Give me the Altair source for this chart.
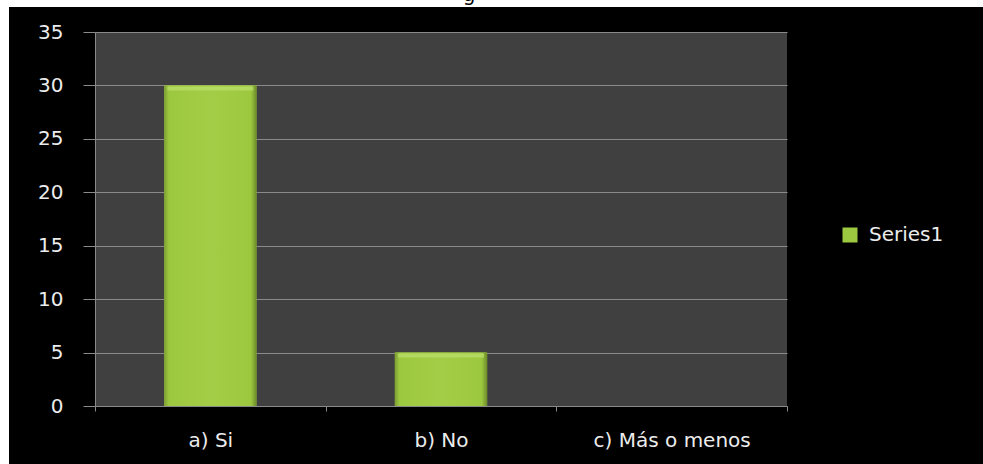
import altair as alt
import pandas as pd

categories = ["a) Si", "b) No", "c) Más o menos"]
values = [30, 5, 0]
series_name = "Series1"
y_ticks = [0, 5, 10, 15, 20, 25, 30, 35]

df = pd.DataFrame({"cat": categories, "val": values, "serie": [series_name] * len(categories)})

FONT = "DejaVu Sans"
GRID = "#8a8a8a"
TXT = "#ececec"
GREEN = "#9dc940"

W, H = 692, 374
PL, PT, PR, PB = 95, 32, 196, 58

grad = alt.LinearGradient(
    gradient="linear", x1=0, x2=1, y1=0, y2=0,
    stops=[
        alt.GradientStop(color="#7d9e33", offset=0.0),
        alt.GradientStop(color="#9cc83f", offset=0.05),
        alt.GradientStop(color="#a3cd46", offset=0.5),
        alt.GradientStop(color="#9cc83f", offset=0.94),
        alt.GradientStop(color="#6d8b2a", offset=1.0),
    ],
)

x_enc = alt.X("cat:N", sort=categories, title=None,
              scale=alt.Scale(paddingInner=0, paddingOuter=0),
              axis=alt.Axis(labelAngle=0, tickBand="extent", tickSize=5, tickColor=GRID,
                            domainColor=GRID, labelColor=TXT, labelFont=FONT, labelFontSize=20,
                            labelPadding=19, grid=False))
y_enc = alt.Y("val:Q", title=None,
              scale=alt.Scale(domain=[0, 35], nice=False),
              axis=alt.Axis(values=y_ticks, tickSize=12, tickColor=GRID, domainColor=GRID,
                            gridColor=GRID, labelColor=TXT, labelFont=FONT, labelFontSize=20,
                            labelPadding=20))

bars_legend = alt.Chart(df).mark_bar(width=alt.RelativeBandSize(0.4)).encode(
    x=x_enc, y=y_enc,
    color=alt.Color("serie:N", title=None,
                    scale=alt.Scale(domain=[series_name], range=[GREEN]),
                    legend=alt.Legend(orient="none", legendX=745, legendY=193, padding=0,
                                      symbolType="square", symbolSize=225, symbolStrokeWidth=0,
                                      labelColor=TXT, labelFont=FONT, labelFontSize=20,
                                      labelOffset=9)),
)
bars_grad = alt.Chart(df).mark_bar(width=alt.RelativeBandSize(0.4), color=grad).encode(
    x=alt.X("cat:N", sort=categories), y="val:Q"
)
bevel = alt.Chart(df).transform_filter("datum.val > 0").mark_tick(
    color="#bcdf6e", thickness=4, size=86, yOffset=3
).encode(x=alt.X("cat:N", sort=categories), y="val:Q")

deco = alt.Data(values=[{"k": 1}])
top_strip = alt.Chart(deco).mark_rect(color="white").encode(
    x=alt.value(-PL), x2=alt.value(W + PR), y=alt.value(-PT), y2=alt.value(-PT + 7))
left_strip = alt.Chart(deco).mark_rect(color="white").encode(
    x=alt.value(-PL), x2=alt.value(-PL + 9), y=alt.value(-PT), y2=alt.value(H + PB))
title_g = alt.Chart(deco).mark_text(text="g", color="black", font=FONT, fontSize=20,
                                    baseline="alphabetic", align="center").encode(
    x=alt.value(469 - PL), y=alt.value(-PT + 0.5))

chart = alt.layer(top_strip, left_strip, title_g, bars_legend, bars_grad, bevel).properties(
    width=W, height=H,
    autosize=alt.AutoSizeParams(type="none"),
    padding={"left": PL, "top": PT, "right": PR, "bottom": PB},
    background="black",
).configure_view(fill="#404040", stroke=None)

chart.save("out.html", embed_options={"renderer": "svg", "actions": False})
